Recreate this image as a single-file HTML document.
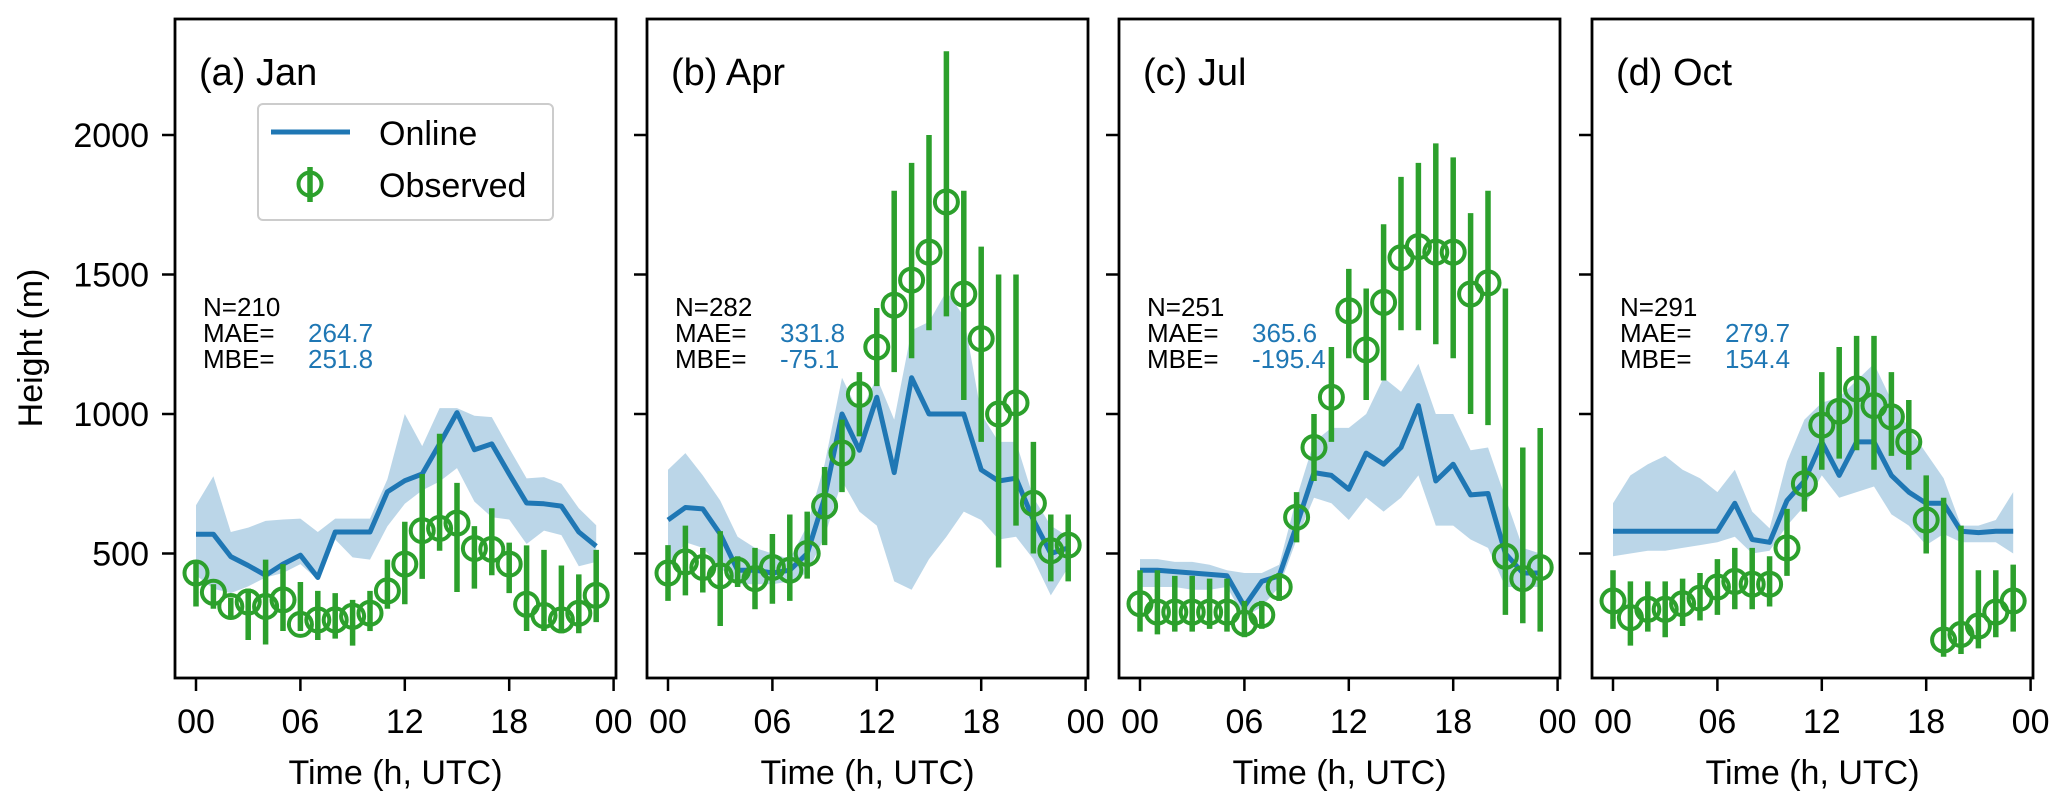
<!DOCTYPE html>
<html><head><meta charset="utf-8">
<style>
html,body{margin:0;padding:0;background:#fff;}
svg text{font-family:"Liberation Sans",Arial,sans-serif;}
</style></head>
<body>
<svg id="fig" width="2067" height="807" viewBox="0 0 2067 807" xmlns="http://www.w3.org/2000/svg"></svg>
<script>
const panelTitles = ["(a) Jan","(b) Apr","(c) Jul","(d) Oct"];
const statN = ["N=210","N=282","N=251","N=291"];
const statMAE = ["264.7","331.8","365.6","279.7"];
const statMBE = ["251.8","-75.1","-195.4","154.4"];
const hours = [0,1,2,3,4,5,6,7,8,9,10,11,12,13,14,15,16,17,18,19,20,21,22,23];
const xTicks = [0,6,12,18,24];
const xTickLabels = ["00","06","12","18","00"];
const yTicks = [500,1000,1500,2000];

const onlineJan = [569,569,489,457,422,462,494,414,577,577,577,721,761,785,893,1005,872,893,785,681,678,670,577,526];
const upperJan = [673,777,577,593,617,622,625,577,625,625,625,766,1000,885,1021,1021,994,989,877,769,774,750,662,601];
const lowerJan = [422,374,358,382,414,430,462,406,550,486,478,598,678,726,758,806,686,630,622,534,582,566,454,470];
const obsJan = [430,361,310,326,310,334,246,262,262,275,286,366,462,582,590,609,518,515,462,318,278,262,286,350];
const obsLoJan = [310,302,270,190,174,222,222,190,195,170,222,302,318,409,510,362,374,422,358,222,222,214,214,254];
const obsHiJan = [473,390,342,374,478,462,398,366,358,334,366,478,614,785,929,753,598,662,539,529,513,457,425,513];

const onlineApr = [620,665,660,570,440,440,430,440,500,700,1000,870,1060,790,1130,1000,1000,1000,800,760,770,620,500,520];
const upperApr = [800,860,780,690,560,520,500,480,600,820,1130,1000,1130,980,1300,1330,1440,1350,1000,900,900,700,600,560];
const lowerApr = [440,540,520,450,390,390,390,400,430,560,760,650,600,400,370,480,560,650,620,550,560,480,350,450];
const obsApr = [430,470,450,420,440,410,450,440,500,670,860,1070,1240,1390,1480,1580,1760,1430,1270,1000,1040,680,510,530];
const obsLoApr = [330,350,360,240,380,300,320,330,410,530,720,920,1100,1150,1200,1300,1350,1050,900,450,600,500,400,400];
const obsHiApr = [530,600,520,580,490,520,570,640,650,810,980,1150,1380,1800,1900,2000,2300,1800,1600,1500,1500,900,640,640];

const onlineJul = [440,440,435,430,425,420,310,400,420,600,790,780,730,860,820,880,1030,760,820,710,715,500,430,430];
const upperJul = [480,480,470,470,460,440,430,430,460,700,900,950,950,1000,1130,1080,1180,1000,1000,870,880,700,520,500];
const lowerJul = [380,380,380,370,370,380,270,310,380,550,700,680,620,700,650,700,780,600,600,550,520,380,380,380];
const obsJul = [320,290,290,290,290,290,250,280,380,630,880,1060,1370,1230,1400,1560,1600,1580,1580,1430,1470,490,410,450];
const obsLoJul = [220,210,220,220,230,220,200,230,330,540,760,900,1200,1050,1120,1300,1300,1250,1200,1000,960,280,250,220];
const obsHiJul = [440,440,420,420,410,410,330,330,430,720,1000,1240,1520,1450,1680,1850,1900,1970,1920,1720,1800,1450,880,950];

const onlineOct = [580,580,580,580,580,580,580,680,550,540,690,760,900,780,900,900,780,720,680,680,580,575,580,580];
const upperOct = [680,780,820,850,800,770,720,800,650,590,830,980,1040,1060,1120,1180,1050,950,860,770,600,600,620,720];
const lowerOct = [490,500,510,510,520,530,540,560,500,510,600,670,780,700,720,740,640,600,530,570,540,540,540,500];
const obsOct = [330,270,300,300,320,340,380,400,390,390,520,750,960,1010,1090,1030,990,900,620,190,210,240,290,330];
const obsLoOct = [230,170,220,200,240,260,280,300,300,310,420,650,800,840,870,800,850,800,500,130,140,160,200,220];
const obsHiOct = [440,400,400,400,410,430,480,520,520,490,660,850,1150,1240,1280,1280,1150,1050,780,700,600,440,440,460];

const online = [onlineJan,onlineApr,onlineJul,onlineOct];
const upper = [upperJan,upperApr,upperJul,upperOct];
const lower = [lowerJan,lowerApr,lowerJul,lowerOct];
const obs = [obsJan,obsApr,obsJul,obsOct];
const obsLo = [obsLoJan,obsLoApr,obsLoJul,obsLoOct];
const obsHi = [obsHiJan,obsHiApr,obsHiJul,obsHiOct];

const NS = "http://www.w3.org/2000/svg";
const svg = document.getElementById('fig');
const panelLefts = [175,647,1119,1592];
const PW = 441, TOP = 19, BOT = 678;
const BLUE = "#1f77b4", GREEN = "#2ca02c";
function mk(tag, attrs, parent){const e=document.createElementNS(NS,tag);for(const k in attrs)e.setAttribute(k,attrs[k]);(parent||svg).appendChild(e);return e;}
function yS(v){return 693 - v*139.5/500;}

for(let p=0;p<4;p++){
  const L = panelLefts[p];
  const xS = h => L + 21 + h*17.4;
  const g = mk('g',{});
  
  
  const clipId='clip'+p;
  const cp=mk('clipPath',{id:clipId},g);
  mk('rect',{x:L,y:TOP,width:PW,height:BOT-TOP},cp);
  const plot=mk('g',{'clip-path':'url(#'+clipId+')'},g);
  let d='';
  hours.forEach((h,i)=>{d+=(i?'L':'M')+xS(h).toFixed(1)+','+yS(upper[p][i]).toFixed(1);});
  for(let i=hours.length-1;i>=0;i--){d+='L'+xS(hours[i]).toFixed(1)+','+yS(lower[p][i]).toFixed(1);}
  const band=mk('path',{d:d+'Z',fill:BLUE,'fill-opacity':0.3,stroke:'none'},plot);
  
  
  const pts=hours.map((h,i)=>xS(h).toFixed(1)+','+yS(online[p][i]).toFixed(1)).join(' ');
  const line=mk('polyline',{points:pts,fill:'none',stroke:BLUE,'stroke-width':5,'stroke-linejoin':'round'},plot);
  
  
  hours.forEach((h,i)=>{
    const eb=mk('line',{x1:xS(h),x2:xS(h),y1:yS(obsLo[p][i]),y2:yS(obsHi[p][i]),stroke:GREEN,'stroke-width':5.5},plot);
    
    
    const c=mk('circle',{cx:xS(h),cy:yS(obs[p][i]),r:11.5,fill:'none',stroke:GREEN,'stroke-width':4},plot);
    
    
  });
  const fr=mk('rect',{x:L,y:TOP,width:PW,height:BOT-TOP,fill:'none',stroke:'#000','stroke-width':2.8},g);
  
  
  xTicks.forEach((t,i)=>{
    mk('line',{x1:xS(t),x2:xS(t),y1:BOT,y2:BOT+13,stroke:'#000','stroke-width':2.5},g);
    const tx=mk('text',{x:xS(t),y:733,'font-size':34,'text-anchor':'middle',fill:'#000'},g);
    tx.textContent=xTickLabels[i];
    
    
  });
  const xl=mk('text',{x:L+PW/2,y:784,'font-size':34,'text-anchor':'middle',fill:'#000'},g);
  xl.textContent='Time (h, UTC)';
  
  
  yTicks.forEach(t=>{
    mk('line',{x1:L-13,x2:L,y1:yS(t),y2:yS(t),stroke:'#000','stroke-width':2.5},g);
    if(p===0){
      const ty=mk('text',{x:L-26,y:yS(t)+12,'font-size':34,'text-anchor':'end',fill:'#000'},g);
      ty.textContent=String(t);
      
      
    }
  });
  const tt=mk('text',{x:L+24,y:85,'font-size':38,fill:'#000'},g);
  tt.textContent=panelTitles[p];
  
  
  const s1=mk('text',{x:L+28,y:316,'font-size':26,fill:'#000'},g);
  s1.textContent=statN[p];
  
  
  const s2=mk('text',{x:L+28,y:342,'font-size':26,fill:'#000'},g);
  s2.textContent='MAE=';
  
  
  const s3=mk('text',{x:L+28,y:368,'font-size':26,fill:'#000'},g);
  s3.textContent='MBE=';
  
  
  const v2=mk('text',{x:L+133,y:342,'font-size':26,fill:BLUE},g);
  v2.textContent=statMAE[p];
  
  
  const v3=mk('text',{x:L+133,y:368,'font-size':26,fill:BLUE},g);
  v3.textContent=statMBE[p];
  
  
}
const yl=mk('text',{x:0,y:0,'font-size':34,'text-anchor':'middle',fill:'#000',transform:'translate(42,348) rotate(-90)'});
yl.textContent='Height (m)';


const lg=mk('g',{});


mk('rect',{x:258,y:104,width:295,height:116,rx:5,fill:'#fff','fill-opacity':0.8,stroke:'#ccc','stroke-width':2},lg);
mk('line',{x1:271,x2:350,y1:132,y2:132,stroke:BLUE,'stroke-width':5},lg);
const lt1=mk('text',{x:379,y:145,'font-size':34,fill:'#000'},lg);
lt1.textContent='Online';


mk('line',{x1:310,x2:310,y1:167,y2:202,stroke:GREEN,'stroke-width':5.5},lg);
mk('circle',{cx:310,cy:184,r:11.5,fill:'none',stroke:GREEN,'stroke-width':4},lg);
const lt2=mk('text',{x:379,y:197,'font-size':34,fill:'#000'},lg);
lt2.textContent='Observed';


</script>
</body></html>
